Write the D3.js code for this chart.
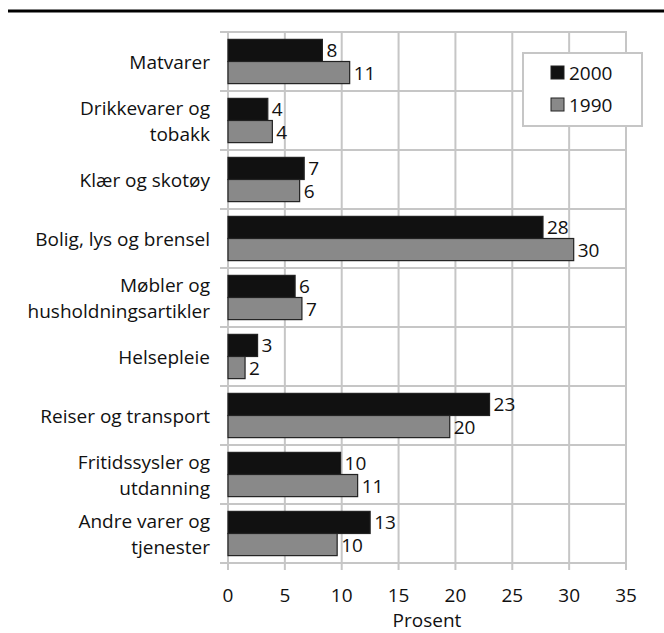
<!DOCTYPE html>
<html>
<head>
    <meta charset="utf-8" />
    <script src="https://cdn.jsdelivr.net/npm/d3@7/dist/d3.min.js"></script>
    <style>
        html, body { margin: 0; padding: 0; background: #fff; }
        svg { display: block; font-family: "Open Sans", sans-serif; }
    </style>
</head>
<body>
    <div id="chart"></div>
    <script>
        // data
        var categories = [
            "Matvarer",
            "Drikkevarer og\ntobakk",
            "Klær og skotøy",
            "Bolig, lys og brensel",
            "Møbler og\nhusholdningsartikler",
            "Helsepleie",
            "Reiser og transport",
            "Fritidssysler og\nutdanning",
            "Andre varer og\ntjenester"
        ];
        var series = ["2000", "1990"];
        var values2000 = [8.3, 3.5, 6.7, 27.7, 5.9, 2.6, 23.0, 9.9, 12.5];
        var values1990 = [10.7, 3.9, 6.3, 30.4, 6.5, 1.5, 19.5, 11.4, 9.6];
        var labels2000 = [8, 4, 7, 28, 6, 3, 23, 10, 13];
        var labels1990 = [11, 4, 6, 30, 7, 2, 20, 11, 10];
        var xTicks = [0, 5, 10, 15, 20, 25, 30, 35];

        var W = 664, H = 633;
        var plotLeft = 228, plotRight = 626, plotTop = 32, plotBottom = 563;
        var fontSize = 19;
        var gridColor = '#c6c6c6';
        var colors = { "2000": '#111111', "1990": '#898989' };

        var svg = d3.select('#chart').append('svg')
            .attr('width', W)
            .attr('height', H);

        // heavy rule at the top of the figure
        svg.append('line')
            .attr('x1', 8).attr('x2', W)
            .attr('y1', 11).attr('y2', 11)
            .attr('stroke', '#000')
            .attr('stroke-width', 3);

        var x = d3.scaleLinear().domain([0, 35]).range([plotLeft, plotRight]);
        var y = d3.scaleBand().domain(categories).range([plotTop, plotBottom])
            .paddingInner(0.25).paddingOuter(0.125);
        var y1 = d3.scaleBand().domain(series).range([0, y.bandwidth()]);
        var step = y.step();

        var rows = categories.map(function (c, i) {
            return { cat: c, vals: [
                { key: "2000", v: values2000[i], label: labels2000[i] },
                { key: "1990", v: values1990[i], label: labels1990[i] }
            ] };
        });

        // vertical gridlines + ticks below
        svg.append('g').selectAll('line')
            .data(xTicks)
            .join('line')
            .attr('x1', d => x(d)).attr('x2', d => x(d))
            .attr('y1', plotTop).attr('y2', plotBottom + 7)
            .attr('stroke', gridColor)
            .attr('stroke-width', 2);

        // horizontal gridlines at the category boundaries
        var bounds = categories.map(c => y(c) - step * 0.125).concat([plotBottom]);
        svg.append('g').selectAll('line')
            .data(bounds)
            .join('line')
            .attr('x1', plotLeft - 8).attr('x2', plotRight + 1)
            .attr('y1', d => d).attr('y2', d => d)
            .attr('stroke', gridColor)
            .attr('stroke-width', 2);

        // x tick labels
        svg.append('g').selectAll('text')
            .data(xTicks)
            .join('text')
            .attr('x', d => x(d))
            .attr('y', 602)
            .attr('text-anchor', 'middle')
            .attr('font-size', fontSize)
            .attr('fill', '#111')
            .text(d => d);

        svg.append('text')
            .attr('x', x(17.5))
            .attr('y', 627)
            .attr('text-anchor', 'middle')
            .attr('font-size', fontSize)
            .attr('fill', '#111')
            .text('Prosent');

        // category labels
        var catG = svg.append('g').selectAll('text')
            .data(categories)
            .join('text')
            .attr('text-anchor', 'end')
            .attr('font-size', fontSize)
            .attr('fill', '#111');
        catG.each(function (d) {
            var lines = d.split('\n');
            var cy = y(d) + y.bandwidth() / 2;
            var lh = 26;
            var y0 = cy - (lines.length - 1) * lh / 2 + 7;
            d3.select(this).selectAll('tspan')
                .data(lines)
                .join('tspan')
                .attr('x', 210)
                .attr('y', (l, i) => y0 + i * lh)
                .text(l => l);
        });

        // bars
        var groups = svg.append('g').selectAll('g')
            .data(rows)
            .join('g')
            .attr('transform', d => 'translate(0,' + y(d.cat) + ')');

        groups.selectAll('rect')
            .data(d => d.vals)
            .join('rect')
            .attr('x', x(0))
            .attr('y', d => y1(d.key))
            .attr('width', d => x(d.v) - x(0))
            .attr('height', y1.bandwidth())
            .attr('fill', d => colors[d.key])
            .attr('stroke', '#222')
            .attr('stroke-width', 1.2);

        groups.selectAll('text')
            .data(d => d.vals)
            .join('text')
            .attr('x', d => x(d.v) + 4)
            .attr('y', d => y1(d.key) + y1.bandwidth() / 2 + 7)
            .attr('font-size', fontSize)
            .attr('fill', '#111')
            .text(d => d.label);

        // legend
        var lg = svg.append('g');
        lg.append('rect')
            .attr('x', 523).attr('y', 53)
            .attr('width', 119).attr('height', 73)
            .attr('fill', '#fff')
            .attr('stroke', gridColor)
            .attr('stroke-width', 2);
        var items = lg.selectAll('g')
            .data(series)
            .join('g')
            .attr('transform', (d, i) => 'translate(551,' + (66 + i * 32) + ')');
        items.append('rect')
            .attr('width', 13).attr('height', 13)
            .attr('fill', d => colors[d])
            .attr('stroke', '#222')
            .attr('stroke-width', 1);
        items.append('text')
            .attr('x', 18).attr('y', 13.5)
            .attr('font-size', fontSize)
            .attr('fill', '#111')
            .text(d => d);
    </script>
</body>
</html>
